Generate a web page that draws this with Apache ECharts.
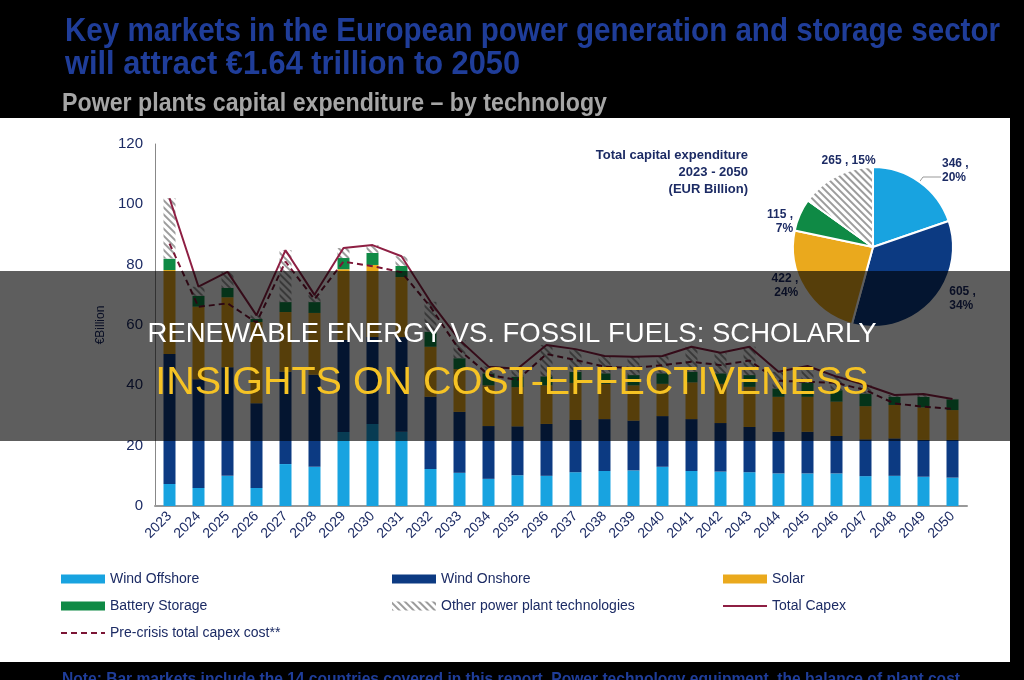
<!DOCTYPE html>
<html>
<head>
<meta charset="utf-8">
<script src="https://cdn.jsdelivr.net/npm/echarts@6.0.0/dist/echarts.min.js"></script>
<style>
  html, body { margin: 0; padding: 0; background: #000; }
  #chart-container { width: 1024px; height: 680px; }
</style>
</head>
<body>
<div id="chart-container"></div>
<script>
var years = ['2023', '2024', '2025', '2026', '2027', '2028', '2029', '2030', '2031', '2032',
  '2033', '2034', '2035', '2036', '2037', '2038', '2039', '2040', '2041', '2042',
  '2043', '2044', '2045', '2046', '2047', '2048', '2049', '2050'];

// EUR billion per year
var windOffshore = [7.3, 6.0, 10.0, 6.0, 13.9, 13.0, 24.5, 27.2, 24.6, 12.3, 11.0, 9.0, 10.2, 10.0,
  11.2, 11.6, 11.8, 13.0, 11.6, 11.4, 11.2, 10.8, 10.8, 10.8, 9.9, 10.0, 9.7, 9.4];
var windOnshore = [43.1, 36.0, 36.0, 28.1, 30.6, 30.5, 30.5, 28.8, 31.4, 23.9, 20.2, 17.5, 16.2, 17.2,
  17.3, 17.2, 16.5, 16.8, 17.2, 16.1, 15.0, 13.8, 13.8, 12.4, 12.2, 12.4, 12.2, 12.5];
var solar = [27.8, 24.1, 23.2, 26.9, 19.8, 20.5, 23.5, 23.9, 19.9, 16.6, 14.2, 13.5, 13.0, 12.8,
  12.3, 11.7, 11.7, 10.7, 12.2, 13.0, 13.3, 11.6, 11.6, 11.4, 11.0, 11.1, 10.8, 9.9];
var batteryStorage = [3.8, 3.6, 3.1, 1.0, 3.3, 3.6, 3.7, 4.0, 3.7, 5.0, 3.6, 4.0, 3.5, 3.0,
  3.7, 3.5, 3.4, 3.5, 3.5, 3.5, 3.9, 2.8, 4.6, 3.8, 4.2, 2.7, 3.5, 3.6];
var otherTech = [20.0, 3.0, 5.3, 1.2, 17.2, 2.4, 3.3, 2.6, 3.2, 9.9, 6.0, 2.2, 2.6, 10.4,
  7.5, 5.7, 6.1, 5.7, 8.3, 6.8, 9.4, 5.5, 5.6, 4.5, 2.8, 0.6, 0.9, 0.1];
var totalCapex = [102, 72.7, 77.6, 63.2, 84.8, 70, 85.5, 86.5, 82.8, 67.7, 55, 46.2, 45.5, 53.4,
  52, 49.7, 49.5, 49.7, 52.8, 50.8, 52.8, 44.5, 46.4, 42.9, 40.1, 36.8, 37.1, 35.5];
var preCrisisCapex = [87, 66, 67.2, 60.8, 81, 68.5, 81, 79.5, 77.5, 66, 51.7, 43.5, 41.8, 50.4,
  48.4, 46.2, 45.7, 46.7, 47.8, 46.7, 48.2, 41.5, 41.2, 40.8, 38.4, 34, 32.9, 32.2];

// pie: total 2023 - 2050
var pieNames = ['Wind Offshore', 'Wind Onshore', 'Solar', 'Battery Storage', 'Other power plant technologies'];
var pieValues = [346, 605, 422, 115, 265];

var NAVY = '#1c2b64';
var colors = {
  'Wind Offshore': '#18a3e0',
  'Wind Onshore': '#0c3a82',
  'Solar': '#eaa91d',
  'Battery Storage': '#0f8a45',
  'Other power plant technologies': '#ffffff'
};
var hatch = {
  symbol: 'rect',
  symbolSize: 1,
  dashArrayX: [1, 0],
  dashArrayY: [2, 3],
  rotation: Math.PI / 4,
  color: '#9c9c9c'
};
var SANS = '"Liberation Sans", Arial, sans-serif';

// small nudges for the pie labels (px)
var pieLabelShift = [
  { dx: -4, dy: -6 },
  { dx: 10, dy: -6 },
  { dx: 2, dy: -5 },
  { dx: 2, dy: 9 },
  { dx: 46, dy: -12 }
];

// squeeze a headline horizontally so it fills the width it has in the picture
var measureCtx = document.createElement('canvas').getContext('2d');
function headline(text, x, y, size, color, width) {
  var font = 'bold ' + size + 'px "Liberation Sans"';
  measureCtx.font = font;
  return {
    type: 'text', x: x, y: y, scaleX: width / measureCtx.measureText(text).width,
    style: { text: text, fill: color, fontFamily: '"Liberation Sans"', fontWeight: 'bold',
      fontSize: size, verticalAlign: 'middle' }
  };
}

var dom = document.getElementById('chart-container');
var myChart = echarts.init(dom, null, { renderer: 'canvas' });

function barSeries(name, data) {
  var s = {
    name: name,
    type: 'bar',
    stack: 'capex',
    barWidth: 12,
    data: data,
    itemStyle: { color: colors[name] }
  };
  if (name === 'Other power plant technologies') {
    s.itemStyle.decal = hatch;
  }
  return s;
}

var noDot = { color: 'rgba(0,0,0,0)', borderWidth: 0, opacity: 0 };
var legendBase = {
  top: 572, orient: 'vertical', padding: 0, itemWidth: 44, itemHeight: 9, itemGap: 13,
  textStyle: { color: NAVY, fontSize: 14 }
};

var option = {
  backgroundColor: '#000',
  animation: false,
  textStyle: { fontFamily: SANS },
  grid: { left: 155, right: 57, top: 144, bottom: 174 },
  xAxis: {
    type: 'category',
    data: years,
    axisLine: { lineStyle: { color: '#999', width: 2 } },
    axisTick: { show: false },
    axisLabel: { rotate: 45, color: NAVY, fontSize: 14, margin: 8, interval: 0 }
  },
  yAxis: {
    type: 'value',
    min: 0,
    max: 120,
    interval: 20,
    name: '€Billion',
    nameLocation: 'middle',
    nameGap: 46,
    nameTextStyle: { color: NAVY, fontSize: 12 },
    axisLine: { show: true, lineStyle: { color: '#888', width: 1 } },
    axisTick: { show: false },
    splitLine: { show: false },
    axisLabel: { color: NAVY, fontSize: 15, margin: 12 }
  },
  legend: [
    Object.assign({}, legendBase, {
      left: 60,
      data: [{ name: 'Wind Offshore', icon: 'rect' }, { name: 'Battery Storage', icon: 'rect' },
        { name: 'Pre-crisis total capex cost**', itemStyle: noDot }]
    }),
    Object.assign({}, legendBase, {
      left: 392,
      data: [{ name: 'Wind Onshore', icon: 'rect' }, { name: 'Other power plant technologies', icon: 'rect' }]
    }),
    Object.assign({}, legendBase, {
      left: 722,
      data: [{ name: 'Solar', icon: 'rect' }, { name: 'Total Capex', itemStyle: noDot }]
    })
  ],
  series: [
    barSeries('Wind Offshore', windOffshore),
    barSeries('Wind Onshore', windOnshore),
    barSeries('Solar', solar),
    barSeries('Battery Storage', batteryStorage),
    barSeries('Other power plant technologies', otherTech),
    {
      name: 'Total Capex',
      type: 'line',
      data: totalCapex,
      symbol: 'none',
      z: 5,
      itemStyle: { color: '#8e1f43' },
      lineStyle: { color: '#8e1f43', width: 2 }
    },
    {
      name: 'Pre-crisis total capex cost**',
      type: 'line',
      data: preCrisisCapex,
      symbol: 'none',
      z: 5,
      itemStyle: { color: '#7b1535' },
      lineStyle: { color: '#7b1535', width: 2, type: [6, 4] }
    },
    {
      type: 'pie',
      center: [873, 247],
      radius: 80,
      startAngle: 90,
      percentPrecision: 0,
      itemStyle: { borderColor: '#fff', borderWidth: 2 },
      label: {
        position: 'outside',
        color: NAVY,
        fontSize: 12,
        fontWeight: 'bold',
        lineHeight: 14,
        formatter: function (p) {
          return p.dataIndex === 4 ? p.value + ' , ' + p.percent + '%' : p.value + ' ,\n' + p.percent + '%';
        }
      },
      labelLine: { show: false, length: 4, length2: 0 },
      labelLayout: function (p) {
        return pieLabelShift[p.dataIndex];
      },
      data: pieNames.map(function (n, i) {
        var d = { name: n, value: pieValues[i], itemStyle: { color: colors[n] } };
        if (i === 4) d.itemStyle.decal = hatch;
        if (i === 0) d.labelLine = { show: true, length: 6, length2: 18, lineStyle: { color: '#999', width: 1 } };
        return d;
      })
    }
  ],
  graphic: [
    { type: 'rect', z: -10, shape: { x: 0, y: 118, width: 1010, height: 544 }, style: { fill: '#fff' } },
    headline('Key markets in the European power generation and storage sector', 65, 32, 33, '#1f3d99', 935),
    headline('will attract €1.64 trillion to 2050', 65, 65, 33, '#1f3d99', 455),
    headline('Power plants capital expenditure – by technology', 62, 104, 26, '#a6a6a6', 545),
    headline('Note: Bar markets include the 14 countries covered in this report. Power technology equipment, the balance of plant cost',
      62, 679, 17, '#1f3d99', 898),
    { type: 'text', x: 748, y: 155, style: { text: 'Total capital expenditure',
      fill: NAVY, fontWeight: 'bold', fontSize: 13, align: 'right', verticalAlign: 'middle' } },
    { type: 'text', x: 748, y: 172, style: { text: '2023 - 2050',
      fill: NAVY, fontWeight: 'bold', fontSize: 13, align: 'right', verticalAlign: 'middle' } },
    { type: 'text', x: 748, y: 189, style: { text: '(EUR Billion)',
      fill: NAVY, fontWeight: 'bold', fontSize: 13, align: 'right', verticalAlign: 'middle' } },
    { type: 'rect', z: 100, shape: { x: 0, y: 271, width: 1024, height: 170 }, style: { fill: 'rgba(0,0,0,0.63)' } },
    { type: 'text', z: 101, x: 512, y: 334, style: { text: 'RENEWABLE ENERGY VS. FOSSIL FUELS: SCHOLARLY',
      fill: '#ffffff', fontSize: 27.5, fontFamily: SANS, align: 'center', verticalAlign: 'middle' } },
    { type: 'text', z: 101, x: 512, y: 383, style: { text: 'INSIGHTS ON COST-EFFECTIVENESS',
      fill: '#f6c324', fontSize: 39.5, fontFamily: SANS, align: 'center', verticalAlign: 'middle' } }
  ]
};

myChart.setOption(option);
window.addEventListener('resize', myChart.resize);
</script>
</body>
</html>
